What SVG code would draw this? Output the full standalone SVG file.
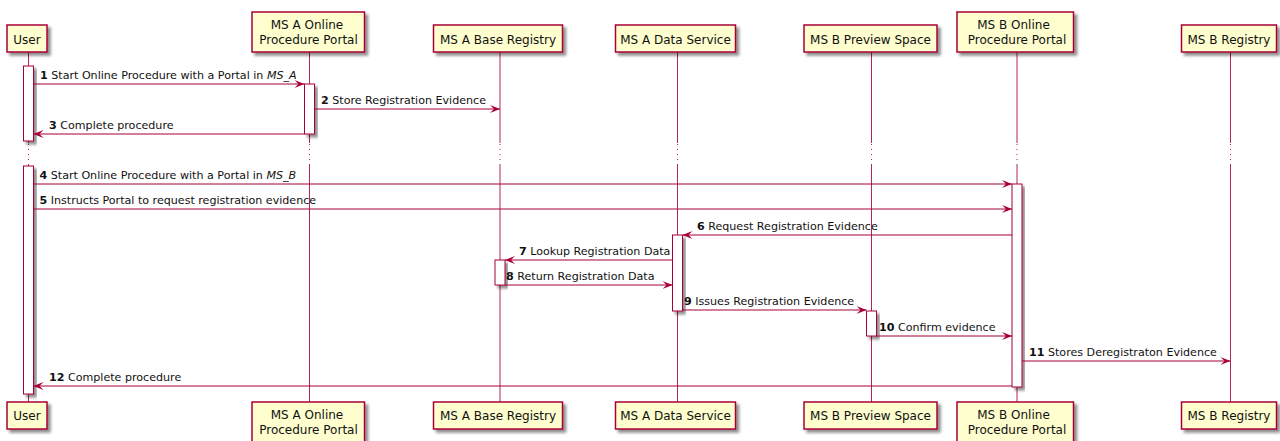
<svg xmlns="http://www.w3.org/2000/svg" width="1280" height="441" viewBox="0 0 1280 441">
<defs>
<filter id="sh" x="-20%" y="-20%" width="150%" height="160%">
<feGaussianBlur in="SourceAlpha" stdDeviation="1.6"/>
<feOffset dx="3" dy="3" result="b"/>
<feComponentTransfer><feFuncA type="linear" slope="0.45"/></feComponentTransfer>
<feMerge><feMergeNode/><feMergeNode in="SourceGraphic"/></feMerge>
</filter>
<marker id="ah" viewBox="0 0 10 8" refX="10" refY="4" markerWidth="10" markerHeight="8" markerUnits="userSpaceOnUse" orient="auto">
<path d="M0,0 L10,4 L0,8 L4,4 Z" fill="#A80036"/>
</marker>
<style>
.p{fill:#FEFECE;stroke:#A80036;stroke-width:1.5;filter:url(#sh)}
.act{fill:#FFFFFF;stroke:#A80036;stroke-width:1;filter:url(#sh)}
.ll{stroke:#A80036;stroke-width:1;stroke-opacity:0.85;fill:none}
.dl{stroke:#A80036;stroke-width:1;stroke-opacity:0.85;stroke-dasharray:1,4;fill:none}
.m{stroke:#A80036;stroke-width:1;fill:none;marker-end:url(#ah)}
.pt{font-family:"DejaVu Sans",sans-serif;font-size:12px;fill:#111;text-anchor:middle}
.mt{font-family:"DejaVu Sans",sans-serif;font-size:11.1px;fill:#111}
.n{font-weight:bold}
.i{font-style:italic}
</style>
</defs>
<rect width="1280" height="441" fill="#FFFFFF"/>

<g id="user">
<path class="ll" d="M28.5,52 V143 M28.5,165 V402"/>
<path class="dl" d="M28.5,144 V165"/>
<rect class="p" x="7" y="25" width="40" height="27"/>
<text class="pt" x="27" y="43.5">User</text>
<rect class="p" x="7" y="402" width="40" height="27"/>
<text class="pt" x="27" y="420">User</text>
<rect class="act" x="23.5" y="66" width="10" height="75"/>
<rect class="act" x="23.5" y="166" width="10" height="228"/>
</g>

<g id="msa_portal">
<path class="ll" d="M309.5,52 V143 M309.5,165 V402"/>
<path class="dl" d="M309.5,144 V165"/>
<rect class="p" x="252" y="12" width="112.5" height="40"/>
<text class="pt" x="307" y="28.5">MS A Online</text>
<text class="pt" x="308.5" y="43.5">Procedure Portal</text>
<rect class="p" x="252" y="402" width="112.5" height="40"/>
<text class="pt" x="307" y="418.5">MS A Online</text>
<text class="pt" x="308.5" y="433.5">Procedure Portal</text>
<rect class="act" x="304.5" y="84" width="10" height="50"/>
</g>

<g id="msa_base_registry">
<path class="ll" d="M500,52 V143 M500,165 V402"/>
<path class="dl" d="M500,144 V165"/>
<rect class="p" x="433.5" y="25" width="129" height="27"/>
<text class="pt" x="498" y="43.5">MS A Base Registry</text>
<rect class="p" x="433.5" y="402" width="129" height="27"/>
<text class="pt" x="498" y="420">MS A Base Registry</text>
<rect class="act" x="495" y="260" width="10" height="25"/>
</g>

<g id="msa_data_service">
<path class="ll" d="M677.5,52 V143 M677.5,165 V402"/>
<path class="dl" d="M677.5,144 V165"/>
<rect class="p" x="615.5" y="25" width="120" height="27"/>
<text class="pt" x="675.5" y="43.5">MS A Data Service</text>
<rect class="p" x="615.5" y="402" width="120" height="27"/>
<text class="pt" x="675.5" y="420">MS A Data Service</text>
<rect class="act" x="672.5" y="235" width="10" height="76"/>
</g>

<g id="msb_preview_space">
<path class="ll" d="M871.5,52 V143 M871.5,165 V402"/>
<path class="dl" d="M871.5,144 V165"/>
<rect class="p" x="804" y="25" width="133" height="27"/>
<text class="pt" x="870.5" y="43.5">MS B Preview Space</text>
<rect class="p" x="804" y="402" width="133" height="27"/>
<text class="pt" x="870.5" y="420">MS B Preview Space</text>
<rect class="act" x="866.5" y="311" width="10" height="25"/>
</g>

<g id="msb_portal">
<path class="ll" d="M1017,52 V143 M1017,165 V402"/>
<path class="dl" d="M1017,144 V165"/>
<rect class="p" x="957" y="12" width="116.5" height="40"/>
<text class="pt" x="1013.5" y="28.5">MS B Online</text>
<text class="pt" x="1017" y="43.5">Procedure Portal</text>
<rect class="p" x="957" y="402" width="116.5" height="40"/>
<text class="pt" x="1013.5" y="418.5">MS B Online</text>
<text class="pt" x="1017" y="433.5">Procedure Portal</text>
<rect class="act" x="1012" y="184" width="10" height="203"/>
</g>

<g id="msb_registry">
<path class="ll" d="M1230.5,52 V143 M1230.5,165 V402"/>
<path class="dl" d="M1230.5,144 V165"/>
<rect class="p" x="1181.5" y="25" width="95" height="27"/>
<text class="pt" x="1229" y="43.5">MS B Registry</text>
<rect class="p" x="1181.5" y="402" width="95" height="27"/>
<text class="pt" x="1229" y="420">MS B Registry</text>
</g>

<g id="connectors">
<line class="m" x1="33.5" y1="84" x2="304.5" y2="84"/>
<text class="mt" x="40" y="79"><tspan class="n">1</tspan> Start Online Procedure with a Portal in <tspan class="i">MS_A</tspan></text>
<line class="m" x1="314.5" y1="109" x2="500" y2="109"/>
<text class="mt" x="321" y="104"><tspan class="n">2</tspan> Store Registration Evidence</text>
<line class="m" x1="304.5" y1="134" x2="33.5" y2="134"/>
<text class="mt" x="49" y="129"><tspan class="n">3</tspan> Complete procedure</text>
<line class="m" x1="33.5" y1="184" x2="1012" y2="184"/>
<text class="mt" x="39.5" y="179"><tspan class="n">4</tspan> Start Online Procedure with a Portal in <tspan class="i">MS_B</tspan></text>
<line class="m" x1="33.5" y1="209" x2="1012" y2="209"/>
<text class="mt" x="39.5" y="204"><tspan class="n">5</tspan> Instructs Portal to request registration evidence</text>
<line class="m" x1="1012" y1="235" x2="682.5" y2="235"/>
<text class="mt" x="697" y="230"><tspan class="n">6</tspan> Request Registration Evidence</text>
<line class="m" x1="672.5" y1="260" x2="505" y2="260"/>
<text class="mt" x="519" y="255"><tspan class="n">7</tspan> Lookup Registration Data</text>
<line class="m" x1="505" y1="285" x2="672.5" y2="285"/>
<text class="mt" x="506" y="280"><tspan class="n">8</tspan> Return Registration Data</text>
<line class="m" x1="682.5" y1="310" x2="866.5" y2="310"/>
<text class="mt" x="684" y="305"><tspan class="n">9</tspan> Issues Registration Evidence</text>
<line class="m" x1="876.5" y1="336" x2="1012" y2="336"/>
<text class="mt" x="879" y="331"><tspan class="n">10</tspan> Confirm evidence</text>
<line class="m" x1="1022" y1="361" x2="1230.5" y2="361"/>
<text class="mt" x="1029" y="356"><tspan class="n">11</tspan> Stores Deregistraton Evidence</text>
<line class="m" x1="1012" y1="386" x2="33.5" y2="386"/>
<text class="mt" x="49" y="381"><tspan class="n">12</tspan> Complete procedure</text>
</g>
</svg>
